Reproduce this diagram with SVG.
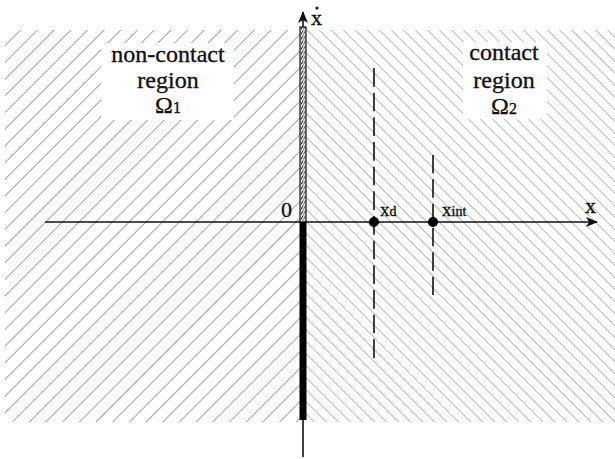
<svg xmlns="http://www.w3.org/2000/svg" width="615" height="459" viewBox="0 0 615 459">
  <style>
    text { font-family: "Liberation Serif", "Times New Roman", serif; fill: #111; stroke: #111; stroke-width: 0.35; }
    .big { font-size: 24px; }
    .ax { stroke: #111; stroke-width: 1.6; fill: none; }
    .dash { stroke: #111; stroke-width: 1.6; fill: none; }
  </style>
  <defs>
    <pattern id="hatchL" width="11.8" height="11.8" patternUnits="userSpaceOnUse" patternTransform="rotate(45)">
      <line x1="0" y1="0" x2="0" y2="11.8" stroke="#a2a2a2" stroke-width="2"/>
    </pattern>
    <pattern id="hatchR" width="8.5" height="8.5" patternUnits="userSpaceOnUse" patternTransform="rotate(-45)">
      <line x1="0" y1="0" x2="0" y2="8.5" stroke="#a8a8a8" stroke-width="1.6"/>
    </pattern>
    <pattern id="chk" width="6" height="5" patternUnits="userSpaceOnUse">
      <rect width="6" height="5" fill="#e0e0e0"/>
      <line x1="1" y1="4.5" x2="3" y2="0.5" stroke="#222" stroke-width="1"/>
      <line x1="3.5" y1="4.5" x2="5.5" y2="0.5" stroke="#444" stroke-width="0.8"/>
    </pattern>
    <marker id="arr" markerWidth="12" markerHeight="10" refX="11" refY="5" orient="auto" markerUnits="userSpaceOnUse">
      <path d="M0,0 L12,5 L0,10 L3,5 Z" fill="#111"/>
    </marker>
  </defs>

  <g id="region-noncontact">
    <rect x="5" y="30" width="295" height="392" fill="url(#hatchL)"/>
    <rect x="101" y="43" width="133" height="77" fill="#fff"/>
    <text class="big" x="168" y="62" text-anchor="middle">non-contact</text>
    <text class="big" x="168" y="88" text-anchor="middle">region</text>
    <text class="big" x="168" y="113" text-anchor="middle">Ω<tspan font-size="16px">1</tspan></text>
  </g>
  <g id="region-contact">
    <rect x="306" y="30" width="309" height="392" fill="url(#hatchR)"/>
    <rect x="463" y="42" width="84" height="77" fill="#fff"/>
    <text class="big" x="504" y="60" text-anchor="middle">contact</text>
    <text class="big" x="504" y="88" text-anchor="middle">region</text>
    <text class="big" x="504" y="114" text-anchor="middle">Ω<tspan font-size="16px">2</tspan></text>
  </g>

  <g id="connectors">
    <line class="ax" x1="45" y1="222" x2="597" y2="222" marker-end="url(#arr)"/>
    <line class="ax" x1="303" y1="457" x2="303" y2="12" marker-end="url(#arr)"/>
    <rect x="300" y="27" width="6" height="195" fill="url(#chk)" stroke="#111" stroke-width="1.2"/>
    <rect x="299.5" y="222" width="7" height="198" fill="#000"/>
    <line class="dash" x1="374" y1="68" x2="374" y2="358" stroke-dasharray="18.67 6"/>
    <line class="dash" x1="433" y1="155" x2="433" y2="295" stroke-dasharray="18.33 6"/>
  </g>

  <g id="point-xd">
    <circle cx="374" cy="222" r="5" fill="#000"/>
    <text font-size="19px" x="380" y="216">x<tspan font-size="14px">d</tspan></text>
  </g>
  <g id="point-xint">
    <circle cx="433" cy="222" r="5" fill="#000"/>
    <text font-size="19px" x="442" y="216">x<tspan font-size="14px">int</tspan></text>
  </g>

  <g id="labels">
    <text font-size="22px" x="281" y="217">0</text>
    <text font-size="22px" x="585" y="213">x</text>
    <text font-size="22px" x="311" y="25">x</text>
    <circle cx="317" cy="8" r="1.6" fill="#111"/>
  </g>
</svg>
